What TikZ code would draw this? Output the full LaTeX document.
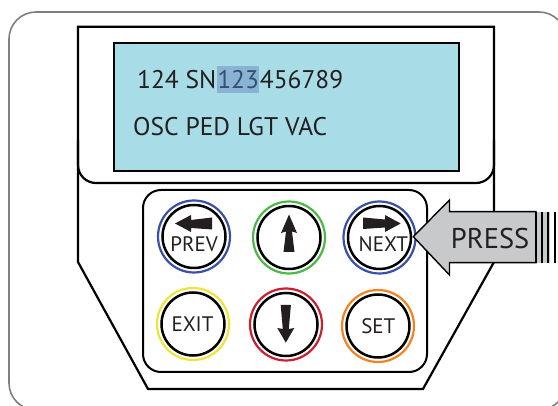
\documentclass[tikz,border=0pt]{standalone}
\usepackage{fontspec}
\setmainfont{PT Sans}
\definecolor{frame}{HTML}{7F7F83}
\definecolor{lcd}{HTML}{A8DCE6}
\definecolor{hl}{HTML}{8AB2D4}
\definecolor{hltext}{HTML}{34506E}
\definecolor{ink}{HTML}{231F20}
\definecolor{bblue}{HTML}{3A50A8}
\definecolor{bgreen}{HTML}{4DB848}
\definecolor{byellow}{HTML}{EEE43A}
\definecolor{bred}{HTML}{C8202F}
\definecolor{borange}{HTML}{F58220}
\definecolor{arrowgray}{HTML}{C8C9CB}
\begin{document}
\begin{tikzpicture}[x=1pt,y=-1pt,
  devline/.style={line width=2.2pt, draw=black},
  ring/.style={circle, draw=#1, line width=2.2pt, minimum size=72pt, inner sep=0pt},
  core/.style={circle, draw=black, line width=2.5pt, minimum size=63pt, inner sep=0pt},
  glyph/.style={fill=ink, draw=none},
  lbl/.style={font=\fontsize{21}{24}\selectfont, text=ink, inner sep=0pt, anchor=base},
  lcdtxt/.style={font=\fontsize{25.5}{30}\selectfont, text=ink, inner sep=0pt, anchor=base west},
]
\useasboundingbox (0,0) rectangle (558,406);
% outer frame
\draw[frame, line width=1.6pt, rounded corners=27pt] (9,12) rectangle (566,410);
% device body
\coordinate (d1) at (78,26.7);
\coordinate (d2) at (494,26.7);
\coordinate (d3) at (494,262);
\coordinate (d4) at (423,389);
\coordinate (d5) at (148,389);
\coordinate (d6) at (78,262);
\draw[devline] (d1) -- (d2) -- (d3) -- (d4) -- (d5) -- (d6) -- cycle;
\draw[devline, rounded corners=18pt] (78,140) -- (78,183) -- (494,183) -- (494,140);
% LCD
\draw[line width=2pt, fill=lcd] (114,43.5) rectangle (459,171);
\node[lcdtxt] (l1a) at (137,88.3) {124 SN};
\node[lcdtxt, fill=hl, text=hltext, inner xsep=0.5pt, text height=22pt, text depth=5pt] (l1b) at (l1a.base east) {123};
\node[lcdtxt] (l1c) at (l1b.base east) {456789};
\node[lcdtxt] (l2) at (133,136) {OSC PED LGT VAC};
% keypad
\draw[line width=2pt, rounded corners=18pt] (143,190) rectangle (427,372);
% buttons
\node[ring=bblue] (prevring) at (194,236.5) {};
\node[core] (prev) at (194,236.5) {};
\node[ring=bgreen] (upring) at (289,237.5) {};
\node[core] (up) at (289,237.5) {};
\node[ring=bblue] (nextring) at (379.5,237.5) {};
\node[core] (next) at (379.5,237.5) {};
\node[ring=byellow] (exitring) at (193,324) {};
\node[core] (exit) at (193,324) {};
\node[ring=bred] (downring) at (286,324.5) {};
\node[core] (down) at (286,324.5) {};
\node[ring=borange] (setring) at (378,326) {};
\node[core] (set) at (378,326) {};
% glyphs
\fill[glyph] (175,223.5) -- (191,215) -- (191,220) -- (212,217.5) -- (212,229.5) -- (191,228) -- (191,232) -- cycle;
\fill[glyph] (400.7,223.5) -- (385,215) -- (385,219.5) -- (363,217.5) -- (363,229) -- (385,227.5) -- (385,232) -- cycle;
\fill[glyph] (289,214.5) -- (297,233) -- (292,231.5) -- (294.5,252) -- (283.5,252) -- (286,231.5) -- (281,233) -- cycle;
\fill[glyph] (285.8,342.7) -- (277.3,328) -- (282.8,329) -- (280.7,305) -- (290.9,305) -- (288.8,329) -- (294.3,328) -- cycle;
% labels
\node[lbl] (prevt) at (194,251.7) {PREV};
\node[lbl] (nextt) at (383.3,251.7) {NEXT};
\node[lbl] (exitt) at (192.5,331.7) {EXIT};
\node[lbl] (sett) at (378.3,333.3) {SET};
% press arrow
\fill[arrowgray] (536,211.7) rectangle (550,262.7);
\draw[fill=arrowgray, line width=1.4pt, line join=miter] (413.3,236.7) -- (449.5,200) -- (449.5,211.7) -- (536,211.7) -- (536,262.7) -- (449.5,262.7) -- (449.5,275) -- cycle;
\foreach \bx in {536.3,541.7,547.9,554.7}
  \draw[line width=2.2pt] (\bx,211.7) -- (\bx,262.7);
\node[font=\fontsize{28.5}{32}\selectfont, text=ink, inner sep=0pt, anchor=base west] (press) at (450.7,248.3) {PRESS};
\end{tikzpicture}
\end{document}
